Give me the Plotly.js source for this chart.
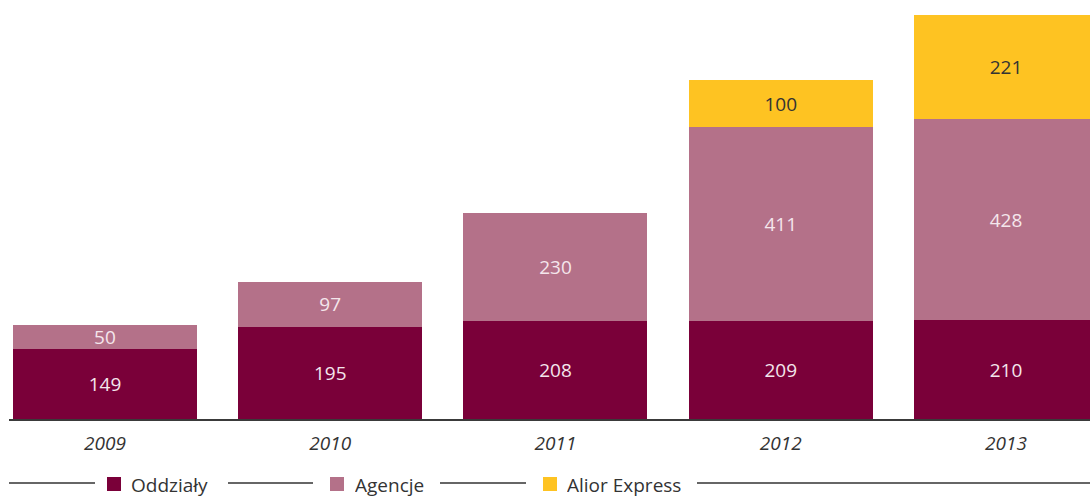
<!DOCTYPE html>
<html>
<head>
<meta charset="utf-8">
<script src="https://cdn.plot.ly/plotly-3.0.1.min.js"></script>
<style>html,body{margin:0;padding:0;background:#fff;}#chart{width:1090px;height:497px;}</style>
</head>
<body>
<div id="chart"></div>
<script>
const years = ['2009', '2010', '2011', '2012', '2013'];
const seriesNames = ['Oddziały', 'Agencje', 'Alior Express'];
const oddzialy = [149, 195, 208, 209, 210];
const agencje = [50, 97, 230, 411, 428];
const aliorExpress = [null, null, null, 100, 221];
const colors = ['#7a0039', '#b47189', '#fec322'];
const textColors = ['#f4e6ec', '#f4e6ec', '#333333'];

const W = 1090, H = 497;
const L = 9, B = 78, T = 0, R = 0;
const plotW = W - L - R, plotH = H - T - B;
const px = v => (v - L) / plotW;
const py = v => (H - B - v) / plotH;

const values = [oddzialy, agencje, aliorExpress];
const traces = values.map((vals, i) => ({
  type: 'bar',
  name: seriesNames[i],
  x: years,
  y: vals,
  marker: {color: colors[i], line: {width: 0}},
  text: vals.map(v => v == null ? '' : String(v)),
  textposition: 'inside',
  insidetextanchor: 'middle',
  textangle: 0,
  textfont: {family: 'Open Sans, sans-serif', size: 19, color: textColors[i]},
  hoverinfo: 'skip',
  showlegend: false
}));

// custom legend
const legendSquares = [107, 330, 543];
const legendTexts = [130, 354, 566];
const legendLines = [[9, 95], [228, 313], [440, 526], [697, 1090]];
const shapes = [];
legendLines.forEach(([a, b]) => shapes.push({
  type: 'line', xref: 'paper', yref: 'paper',
  x0: px(a), x1: px(b), y0: py(483), y1: py(483),
  line: {color: '#333333', width: 1.3}
}));
legendSquares.forEach((s, i) => shapes.push({
  type: 'rect', xref: 'paper', yref: 'paper',
  x0: px(s), x1: px(s + 14), y0: py(477), y1: py(491),
  fillcolor: colors[i], line: {width: 0}
}));
const annotations = seriesNames.map((n, i) => ({
  xref: 'paper', yref: 'paper', x: px(legendTexts[i]), y: py(485),
  xanchor: 'left', yanchor: 'middle', showarrow: false, text: n,
  height: 22, borderpad: 0,
  font: {family: 'Open Sans, sans-serif', size: 19, color: '#333333'}
}));

const layout = {
  width: W, height: H,
  margin: {l: L, r: R, t: T, b: B, pad: 0},
  barmode: 'stack',
  bargap: 0.183,
  paper_bgcolor: '#ffffff',
  plot_bgcolor: '#ffffff',
  uniformtext: {minsize: 19, mode: 'show'},
  xaxis: {
    type: 'category',
    range: [-0.426, 4.373],
    showline: true, linecolor: '#3a3a3a', linewidth: 1.5,
    ticks: '', showgrid: false, zeroline: false,
    ticklabelstandoff: 7,
    tickfont: {family: 'Open Sans, sans-serif', size: 19, color: '#333333', style: 'italic'},
    fixedrange: true
  },
  yaxis: {
    range: [0, 890.5], visible: false, showgrid: false, zeroline: false, fixedrange: true
  },
  shapes: shapes,
  annotations: annotations,
  showlegend: false
};

Plotly.newPlot('chart', traces, layout, {displayModeBar: false, staticPlot: true});
</script>
</body>
</html>
